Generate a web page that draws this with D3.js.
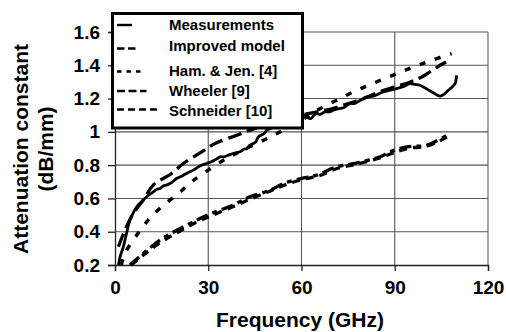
<!DOCTYPE html>
<html><head><meta charset="utf-8">
<script src="https://cdn.jsdelivr.net/npm/d3@7"></script>
<style>body{margin:0;background:#fff}svg{display:block}text{font-family:"Liberation Sans",Arial,sans-serif;font-weight:bold;fill:#000}</style>
</head><body>
<svg id="c" width="506" height="332"></svg>
<script>
const xTicks = [0, 30, 60, 90, 120];
const yTicks = [0.2, 0.4, 0.6, 0.8, 1.0, 1.2, 1.4, 1.6];
const seriesNames = ["Measurements", "Improved model", "Ham. & Jen. [4]", "Wheeler [9]", "Schneider [10]"];

const measurements = [[1.1,0.2],[1.8,0.26],[2.7,0.31],[3.7,0.39],[4.8,0.47],[5.8,0.51],[7,0.55],[8.5,0.58],[10.2,0.61],[12,0.635],[13.5,0.655],[14.5,0.66],[15.5,0.675],[16.5,0.68],[17.7,0.69],[18.5,0.7],[19.8,0.72],[21,0.73],[22.5,0.745],[24,0.76],[25.2,0.77],[27.3,0.795],[29.5,0.81],[31,0.82],[32.5,0.835],[33.8,0.85],[35,0.85],[36.5,0.86],[38,0.87],[40.2,0.88],[41.5,0.895],[42.5,0.9],[43.4,0.92],[44.5,0.93],[45.3,0.94],[46.1,0.97],[47,0.98],[48,0.99],[48.8,1.01],[50,1.02],[51.5,1.04],[53,1.045],[54.5,1.06],[56,1.05],[57,1.07],[58.5,1.07],[60,1.09],[61,1.1],[62,1.085],[63,1.08],[64,1.1],[64.9,1.11],[66,1.105],[67.5,1.12],[69,1.12],[70.2,1.13],[72,1.14],[73.5,1.145],[75.6,1.17],[77,1.17],[78.5,1.185],[81,1.21],[83,1.215],[84.5,1.225],[86.3,1.24],[88.5,1.25],[90.5,1.26],[92.5,1.27],[94.9,1.29],[96.5,1.285],[98,1.28],[99.2,1.27],[100.5,1.255],[101.9,1.24],[103.3,1.225],[104.6,1.215],[105.8,1.225],[107.2,1.25],[108.5,1.27],[109.4,1.29],[109.9,1.34]];
const improved = [[1.1,0.31],[3.2,0.41],[5.9,0.51],[9.1,0.59],[12.3,0.68],[18.2,0.75],[22,0.81],[27.9,0.88],[32.2,0.93],[39.2,0.98],[43.4,1.01],[50,1.05],[60,1.1],[65,1.12],[70,1.14],[75,1.17],[80,1.2],[85,1.24],[90,1.27],[95,1.3],[98.7,1.33],[104.6,1.4],[106.5,1.42]];
const hamJen = [[2,0.2],[3.2,0.27],[7,0.38],[10.7,0.47],[15,0.55],[20.4,0.63],[24.7,0.7],[30,0.77],[35.9,0.84],[40,0.88],[50,0.97],[60,1.07],[65,1.13],[71.3,1.19],[77.8,1.25],[84.2,1.3],[90.6,1.35],[96,1.39],[101.9,1.43],[108.3,1.47]];
const wheeler = [[4.8,0.2],[9.1,0.27],[14.5,0.35],[20,0.41],[26.3,0.47],[31.1,0.51],[38,0.56],[43.4,0.61],[50,0.65],[54.2,0.69],[60,0.72],[64.9,0.74],[71.3,0.79],[77.2,0.81],[85.3,0.85],[88.5,0.88],[93.9,0.91],[100.3,0.92],[106.7,0.98]];
const schneider = [[5.2,0.2],[9.5,0.265],[15,0.34],[20.5,0.4],[26.5,0.46],[31.5,0.5],[38.5,0.555],[44,0.6],[50,0.645],[54.5,0.68],[60.5,0.715],[65.5,0.735],[71.5,0.78],[77.5,0.805],[85.5,0.845],[89,0.87],[94,0.9],[100.5,0.915],[107,0.97]];

const svg = d3.select("#c");
const x = d3.scaleLinear().domain([0, 120]).range([115, 488]);
const y = d3.scaleLinear().domain([0.2, 1.6]).range([265, 32]);

// grid
svg.append("g").selectAll("line").data(yTicks.slice(1)).join("line")
  .attr("x1", x(0)).attr("x2", x(120)).attr("y1", d => y(d)).attr("y2", d => y(d))
  .attr("stroke", "#555").attr("stroke-width", 1.1);
svg.append("g").selectAll("line").data(xTicks.slice(1)).join("line")
  .attr("y1", y(0.2)).attr("y2", y(1.6)).attr("x1", d => x(d)).attr("x2", d => x(d))
  .attr("stroke", "#555").attr("stroke-width", 1.1);

// axes
const ya = svg.append("g").attr("transform", `translate(${x(0)},0)`)
  .call(d3.axisLeft(y).tickValues(yTicks).tickSize(7).tickPadding(8)
    .tickFormat(d => d === 1 ? "1" : d3.format(".1f")(d)));
const xa = svg.append("g").attr("transform", `translate(0,${y(0.2)})`)
  .call(d3.axisBottom(x).tickValues(xTicks).tickSize(6).tickPadding(10).tickFormat(d3.format("d")));
[ya, xa].forEach(a => {
  a.select(".domain").attr("stroke", "#222").attr("stroke-width", 1.3);
  a.selectAll(".tick line").attr("stroke", "#222").attr("stroke-width", 1.3);
  a.selectAll("text").style("font-size", "19px").style("font-weight", "bold")
    .style("font-family", '"Liberation Sans",Arial,sans-serif').attr("fill", "#000");
});

// titles
svg.append("text").attr("x", 300).attr("y", 327).attr("text-anchor", "middle")
  .style("font-size", "21px").text("Frequency (GHz)");
svg.append("text").attr("transform", "translate(28,149) rotate(-90)").attr("text-anchor", "middle")
  .style("font-size", "21px").text("Attenuation constant");
svg.append("text").attr("transform", "translate(53,149) rotate(-90)").attr("text-anchor", "middle")
  .style("font-size", "21px").text("(dB/mm)");

// series
const line = d3.line().x(d => x(d[0])).y(d => y(d[1])).curve(d3.curveCatmullRom.alpha(0.5));
const styles = [
  {data: measurements, dash: null, w: 2.8},
  {data: improved, dash: "14,6", w: 3.3},
  {data: hamJen, dash: "6,10", w: 3.5},
  {data: wheeler, dash: "12,5,5,5", w: 3.3},
  {data: schneider, dash: "8,6", w: 3.3}
];
const order = [4, 3, 2, 1, 0];
order.forEach(i => {
  const s = styles[i];
  svg.append("path").datum(s.data).attr("d", line).attr("fill", "none")
    .attr("stroke", "#000").attr("stroke-width", s.w)
    .attr("stroke-dasharray", s.dash).attr("stroke-linejoin", "round");
});

// legend
const lg = svg.append("g");
lg.append("rect").attr("x", 112.5).attr("y", 13.5).attr("width", 190).attr("height", 114.5)
  .attr("fill", "#fff").attr("stroke", "#000").attr("stroke-width", 3);
const rowsText = [30, 50.5, 76, 96, 115.5];
const rowsLine = [25, 48.5, 71.5, 91, 109.5];
const sampleLen = [15, 18.5, 24, 29.5, 40];
const sampleDash = [null, "7.5,3.5", "4.5,5", "8,3.5", "7,4"];
seriesNames.forEach((n, i) => {
  lg.append("line").attr("x1", 117).attr("x2", 117 + sampleLen[i])
    .attr("y1", rowsLine[i]).attr("y2", rowsLine[i])
    .attr("stroke", "#000").attr("stroke-width", 2.4).attr("stroke-dasharray", sampleDash[i]);
  lg.append("text").attr("x", 169).attr("y", rowsText[i]).style("font-size", "15px").text(n);
});
</script>
</body></html>
